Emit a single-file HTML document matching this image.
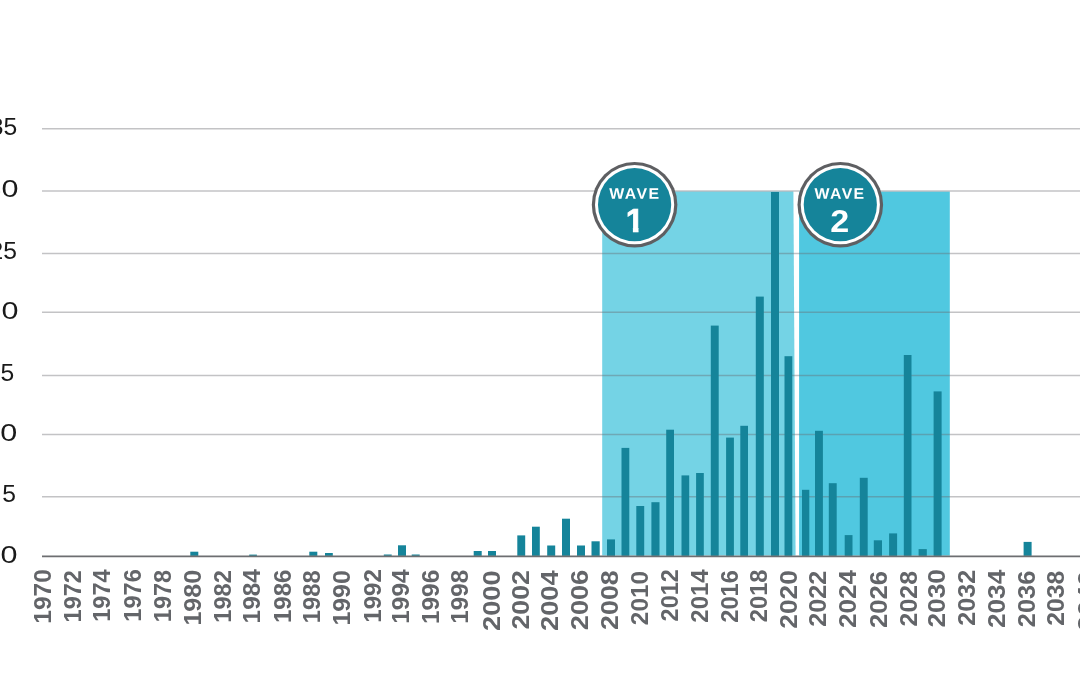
<!DOCTYPE html>
<html lang="en"><head><meta charset="utf-8"><title>Waves chart</title>
<style>
html,body{margin:0;padding:0;background:#fff;}
body{width:1080px;height:675px;overflow:hidden;position:relative;}
svg{display:block;position:absolute;left:0;top:0;}
.yl{font-family:"Liberation Sans",sans-serif;font-size:23.5px;fill:#1a1a1a;text-anchor:end;}
.xl{font-family:"Liberation Sans",sans-serif;font-weight:bold;font-size:23.2px;fill:#636569;text-anchor:end;}
.wv{font-family:"Liberation Sans",sans-serif;font-weight:bold;font-size:15.4px;fill:#fff;text-anchor:start;letter-spacing:1.35px;}
.wn{font-family:"Liberation Sans",sans-serif;font-weight:bold;font-size:32.6px;fill:#fff;text-anchor:middle;}
</style></head><body>
<svg width="1080" height="675" viewBox="0 0 1080 675">
<defs>
<clipPath id="one"><rect x="620" y="200" width="30" height="27.7"/><rect x="632.9" y="227" width="5.6" height="6"/></clipPath>
</defs>
<rect x="0" y="0" width="1080" height="675" fill="#fff"/>

<polygon points="602.2,191.6 793.4,191.6 795.6,555.6 602.2,555.6" fill="#74d3e5"/>
<rect x="799.1" y="191.6" width="150.7" height="364.0" fill="#50c8e0"/>
<g stroke="#696a6d" stroke-opacity="0.4" stroke-width="1.5">
<line x1="42" y1="128.67" x2="1080" y2="128.67"/>
<line x1="42" y1="190.95" x2="1080" y2="190.95"/>
<line x1="42" y1="253.40" x2="1080" y2="253.40"/>
<line x1="42" y1="312.30" x2="1080" y2="312.30"/>
<line x1="42" y1="375.60" x2="1080" y2="375.60"/>
<line x1="42" y1="434.50" x2="1080" y2="434.50"/>
<line x1="42" y1="496.67" x2="1080" y2="496.67"/>
</g>
<g fill="#15849a">
<rect x="190.3" y="551.7" width="8.0" height="4.2"/>
<rect x="249.2" y="554.6" width="7.7" height="1.3"/>
<rect x="309.3" y="551.7" width="8.0" height="4.2"/>
<rect x="325.0" y="553.0" width="7.8" height="2.9"/>
<rect x="383.8" y="554.5" width="7.9" height="1.4"/>
<rect x="398.0" y="545.3" width="8.0" height="10.6"/>
<rect x="411.7" y="554.5" width="8.0" height="1.4"/>
<rect x="473.7" y="551.0" width="8.0" height="4.9"/>
<rect x="488.0" y="551.0" width="8.0" height="4.9"/>
<rect x="517.3" y="535.4" width="7.9" height="20.5"/>
<rect x="532.0" y="526.7" width="7.8" height="29.2"/>
<rect x="547.2" y="545.5" width="8.0" height="10.4"/>
<rect x="562.0" y="518.7" width="8.0" height="37.2"/>
<rect x="577.0" y="545.5" width="8.0" height="10.4"/>
<rect x="591.5" y="541.3" width="8.2" height="14.6"/>
<rect x="607.0" y="539.4" width="8.0" height="16.5"/>
<rect x="621.5" y="447.9" width="7.8" height="108.0"/>
<rect x="636.3" y="506.0" width="7.9" height="49.9"/>
<rect x="651.4" y="502.2" width="8.1" height="53.7"/>
<rect x="666.2" y="429.7" width="7.8" height="126.2"/>
<rect x="681.5" y="475.4" width="7.7" height="80.5"/>
<rect x="696.1" y="473.0" width="7.7" height="82.9"/>
<rect x="710.8" y="325.6" width="7.9" height="230.3"/>
<rect x="726.1" y="437.6" width="7.8" height="118.3"/>
<rect x="740.3" y="425.8" width="7.7" height="130.1"/>
<rect x="755.8" y="296.6" width="8.0" height="259.3"/>
<rect x="771.0" y="192.0" width="8.0" height="363.9"/>
<rect x="784.5" y="356.2" width="7.8" height="199.7"/>
<rect x="802.0" y="489.8" width="7.3" height="66.1"/>
<rect x="815.0" y="430.8" width="7.9" height="125.1"/>
<rect x="828.8" y="483.2" width="7.9" height="72.7"/>
<rect x="844.7" y="535.1" width="7.8" height="20.8"/>
<rect x="859.8" y="477.8" width="7.9" height="78.1"/>
<rect x="873.8" y="540.3" width="8.2" height="15.6"/>
<rect x="889.1" y="533.4" width="8.0" height="22.5"/>
<rect x="903.8" y="355.0" width="7.7" height="200.9"/>
<rect x="918.6" y="549.1" width="8.2" height="6.8"/>
<rect x="933.6" y="391.4" width="8.0" height="164.5"/>
<rect x="1023.6" y="541.9" width="8.0" height="14.0"/>
</g>
<line x1="42" y1="556.40" x2="1080" y2="556.40" stroke="#6d6e71" stroke-width="1.6"/>
<text class="yl" transform="translate(17.2,135.3) scale(1.05,1)" x="0" y="0">35</text>
<text class="yl" transform="translate(18.6,197.2) scale(1.30,1)" x="0" y="0">30</text>
<text class="yl" transform="translate(17.0,259.0) scale(1.05,1)" x="0" y="0">25</text>
<text class="yl" transform="translate(18.6,319.0) scale(1.30,1)" x="0" y="0">20</text>
<text class="yl" transform="translate(14.2,380.5) scale(1.05,1)" x="0" y="0">15</text>
<text class="yl" transform="translate(17.2,440.6) scale(1.30,1)" x="0" y="0">10</text>
<text class="yl" transform="translate(16.0,501.7) scale(1.05,1)" x="0" y="0">5</text>
<text class="yl" transform="translate(17.6,563.1) scale(1.30,1)" x="0" y="0">0</text>
<text class="xl" transform="translate(51.1,569.2) rotate(-90) scale(1.057,1)" x="0" y="0">1970</text>
<text class="xl" transform="translate(81.1,570.2) rotate(-90) scale(1.012,1)" x="0" y="0">1972</text>
<text class="xl" transform="translate(110.2,569.5) rotate(-90) scale(1.012,1)" x="0" y="0">1974</text>
<text class="xl" transform="translate(140.7,569.2) rotate(-90) scale(1.018,1)" x="0" y="0">1976</text>
<text class="xl" transform="translate(171.1,569.8) rotate(-90) scale(1.014,1)" x="0" y="0">1978</text>
<text class="xl" transform="translate(201.0,569.8) rotate(-90) scale(1.081,1)" x="0" y="0">1980</text>
<text class="xl" transform="translate(230.9,570.2) rotate(-90) scale(1.016,1)" x="0" y="0">1982</text>
<text class="xl" transform="translate(259.9,569.2) rotate(-90) scale(1.051,1)" x="0" y="0">1984</text>
<text class="xl" transform="translate(290.7,569.5) rotate(-90) scale(1.037,1)" x="0" y="0">1986</text>
<text class="xl" transform="translate(320.4,570.2) rotate(-90) scale(1.028,1)" x="0" y="0">1988</text>
<text class="xl" transform="translate(350.0,570.2) rotate(-90) scale(1.073,1)" x="0" y="0">1990</text>
<text class="xl" transform="translate(380.7,569.2) rotate(-90) scale(1.037,1)" x="0" y="0">1992</text>
<text class="xl" transform="translate(409.3,569.5) rotate(-90) scale(1.051,1)" x="0" y="0">1994</text>
<text class="xl" transform="translate(438.5,569.8) rotate(-90) scale(1.051,1)" x="0" y="0">1996</text>
<text class="xl" transform="translate(468.1,569.8) rotate(-90) scale(1.045,1)" x="0" y="0">1998</text>
<text class="xl" transform="translate(499.6,570.2) rotate(-90) scale(1.179,1)" x="0" y="0">2000</text>
<text class="xl" transform="translate(529.3,570.2) rotate(-90) scale(1.149,1)" x="0" y="0">2002</text>
<text class="xl" transform="translate(558.4,570.2) rotate(-90) scale(1.179,1)" x="0" y="0">2004</text>
<text class="xl" transform="translate(588.2,569.8) rotate(-90) scale(1.171,1)" x="0" y="0">2006</text>
<text class="xl" transform="translate(617.9,570.2) rotate(-90) scale(1.157,1)" x="0" y="0">2008</text>
<text class="xl" transform="translate(647.6,571.0) rotate(-90) scale(1.050,1)" x="0" y="0">2010</text>
<text class="xl" transform="translate(677.6,569.2) rotate(-90) scale(1.012,1)" x="0" y="0">2012</text>
<text class="xl" transform="translate(707.7,569.5) rotate(-90) scale(1.030,1)" x="0" y="0">2014</text>
<text class="xl" transform="translate(737.7,570.2) rotate(-90) scale(1.016,1)" x="0" y="0">2016</text>
<text class="xl" transform="translate(766.9,569.5) rotate(-90) scale(1.022,1)" x="0" y="0">2018</text>
<text class="xl" transform="translate(796.6,570.2) rotate(-90) scale(1.133,1)" x="0" y="0">2020</text>
<text class="xl" transform="translate(826.4,570.7) rotate(-90) scale(1.085,1)" x="0" y="0">2022</text>
<text class="xl" transform="translate(856.3,569.9) rotate(-90) scale(1.125,1)" x="0" y="0">2024</text>
<text class="xl" transform="translate(886.8,571.0) rotate(-90) scale(1.103,1)" x="0" y="0">2026</text>
<text class="xl" transform="translate(916.5,571.0) rotate(-90) scale(1.074,1)" x="0" y="0">2028</text>
<text class="xl" transform="translate(944.8,569.2) rotate(-90) scale(1.131,1)" x="0" y="0">2030</text>
<text class="xl" transform="translate(974.8,569.9) rotate(-90) scale(1.082,1)" x="0" y="0">2032</text>
<text class="xl" transform="translate(1004.6,569.8) rotate(-90) scale(1.127,1)" x="0" y="0">2034</text>
<text class="xl" transform="translate(1034.6,570.7) rotate(-90) scale(1.095,1)" x="0" y="0">2036</text>
<text class="xl" transform="translate(1064.0,570.7) rotate(-90) scale(1.068,1)" x="0" y="0">2038</text>
<text class="xl" transform="translate(1094.5,570.6) rotate(-90) scale(1.169,1)" x="0" y="0">2040</text>
<circle cx="634.6" cy="204.7" r="42.8" fill="#5e5f62"/>
<circle cx="634.6" cy="204.7" r="39.6" fill="#fff"/>
<circle cx="634.6" cy="204.7" r="36.6" fill="#15849a"/>
<text class="wv" transform="translate(609.3,198.8) rotate(0.03) scale(1.03,1)" x="0" y="0">WAVE</text>
<g clip-path="url(#one)"><text class="wn" x="634.8" y="231.8" stroke="#fff" stroke-width="0.7">1</text></g>
<circle cx="840.3" cy="204.7" r="42.8" fill="#5e5f62"/>
<circle cx="840.3" cy="204.7" r="39.6" fill="#fff"/>
<circle cx="840.3" cy="204.7" r="36.6" fill="#15849a"/>
<text class="wv" transform="translate(814.5,198.8) rotate(0.03) scale(1.03,1)" x="0" y="0">WAVE</text>
<text class="wn" transform="translate(839.8,231.9) scale(1.07,1)" x="0" y="0" style="font-size:31.9px">2</text>
</svg></body></html>
